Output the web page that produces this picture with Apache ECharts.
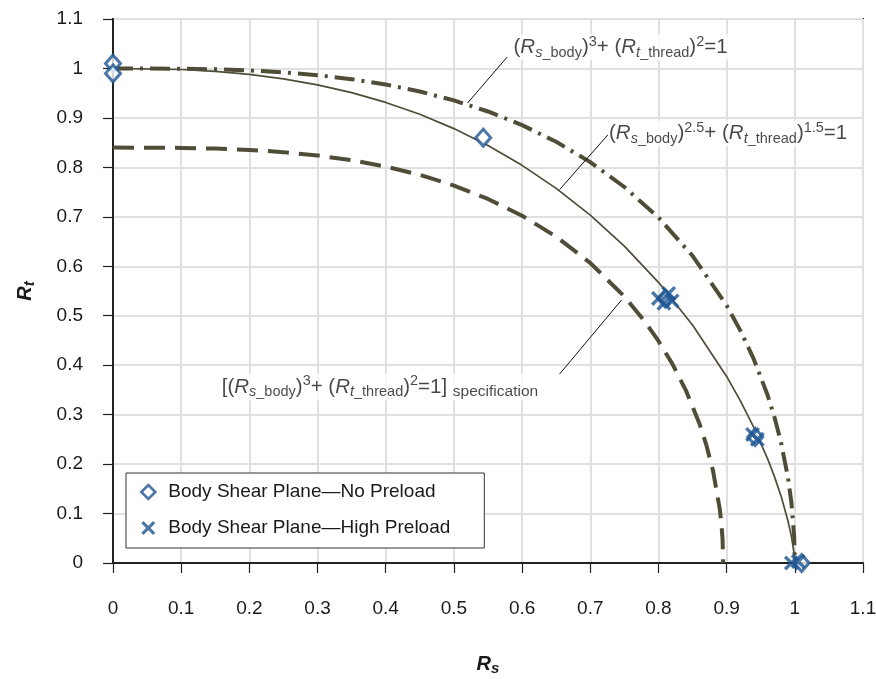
<!DOCTYPE html>
<html><head><meta charset="utf-8">
<script src="https://cdn.jsdelivr.net/npm/echarts@6/dist/echarts.min.js"></script>
<style>html,body{margin:0;padding:0;background:#fff}#c{width:876px;height:679px}</style>
</head><body><div id="c"></div>
<script>
// ---- data ----
const noPreload = [[0, 1.01], [0, 0.99], [0.543, 0.86], [0.81, 0.535], [0.942, 0.255], [1.01, 0]];
const highPreload = [[0.80, 0.535], [0.815, 0.545], [0.82, 0.53], [0.808, 0.525], [0.938, 0.26], [0.945, 0.25], [0.995, 0], [1.005, 0.003]];

// (Rs)^3 + (Rt)^2 = 1   (dash-dot)
const curveCubic = [[0,1],[0.1,0.9995],[0.15,0.9983],[0.2,0.996],[0.25,0.9922],[0.3,0.9864],[0.35,0.9783],[0.4,0.9675],[0.45,0.9534],[0.5,0.9354],[0.55,0.913],[0.6,0.8854],[0.65,0.8517],[0.7,0.8106],[0.75,0.7603],[0.8,0.6986],[0.85,0.6212],[0.9,0.5206],[0.92,0.4704],[0.94,0.4116],[0.96,0.3396],[0.97,0.2955],[0.98,0.2425],[0.99,0.1723],[0.995,0.1222],[0.999,0.0548],[1,0]];
// (Rs)^2.5 + (Rt)^1.5 = 1   (solid)
const curvePower = [[0,1],[0.1,0.9979],[0.15,0.9942],[0.2,0.988],[0.25,0.9791],[0.3,0.9669],[0.35,0.9511],[0.4,0.9313],[0.45,0.9073],[0.5,0.8784],[0.55,0.8442],[0.6,0.8041],[0.65,0.7576],[0.7,0.7035],[0.75,0.6408],[0.8,0.5676],[0.85,0.4813],[0.9,0.3772],[0.92,0.3283],[0.94,0.2738],[0.96,0.2111],[0.97,0.1752],[0.98,0.1344],[0.99,0.085],[0.995,0.0539],[0.999,0.0184],[1,0]];
// specification curve (dashed)
const curveSpec = [[0,0.84],[0.1,0.8394],[0.15,0.838],[0.2,0.8353],[0.25,0.8308],[0.3,0.824],[0.35,0.8145],[0.4,0.8016],[0.45,0.7848],[0.5,0.7632],[0.55,0.7361],[0.6,0.7022],[0.65,0.6598],[0.7,0.6067],[0.75,0.5389],[0.78,0.4884],[0.8,0.449],[0.82,0.4036],[0.84,0.3497],[0.86,0.2821],[0.87,0.2397],[0.88,0.1869],[0.89,0.1085],[0.892,0.0841],[0.894,0.0486],[0.895,0]];

const legendNames = ['Body Shear Plane\u2014No Preload', 'Body Shear Plane\u2014High Preload'];
const curveLabels = [
  '{m|(}{mi|R}{si|s}{s|_body}{m|)}{p|3}{m|+ (}{mi|R}{si|t}{s|_thread}{m|)}{p|2}{m|=1}',
  '{m|(}{mi|R}{si|s}{s|_body}{m|)}{p|2.5}{m|+ (}{mi|R}{si|t}{s|_thread}{m|)}{p|1.5}{m|=1}',
  '{m|[(}{mi|R}{si|s}{s|_body}{m|)}{p|3}{m|+ (}{mi|R}{si|t}{s|_thread}{m|)}{p|2}{m|=1] }{sp|specification}'
];
const labelAnchors = [[0.586, 1.043], [0.726, 0.868], [0.158, 0.356]];
const leaderLines = [
  [[0.578, 1.023], [0.52, 0.93]],
  [[0.726, 0.866], [0.655, 0.755]],
  [[0.655, 0.382], [0.746, 0.532]]
];
const axisMin = 0, axisMax = 1.1, axisStep = 0.1;

// ---- styling ----
const F = '"Liberation Sans", Arial, sans-serif';
const BLUE = '#1d5592';
const CURVE = '#4f4d37';
const TEXT = '#1a1a1a';
const xPath = 'path://M0,1.6 L1.6,0 L5,3.4 L8.4,0 L10,1.6 L6.6,5 L10,8.4 L8.4,10 L5,6.6 L1.6,10 L0,8.4 L3.4,5 Z';

const rich = {
  m:  {fontSize: 20.5, fontFamily: F, color: TEXT, lineHeight: 26},
  mi: {fontSize: 20.5, fontFamily: F, color: TEXT, fontStyle: 'italic', lineHeight: 26},
  si: {fontSize: 14.5, fontFamily: F, color: TEXT, fontStyle: 'italic', verticalAlign: 'bottom', lineHeight: 14},
  s:  {fontSize: 14.5, fontFamily: F, color: TEXT, verticalAlign: 'bottom', lineHeight: 14},
  p:  {fontSize: 14.5, fontFamily: F, color: TEXT, verticalAlign: 'top', lineHeight: 16},
  sp: {fontSize: 15.5, fontFamily: F, color: TEXT, verticalAlign: 'bottom', lineHeight: 15}
};

const chart = echarts.init(document.getElementById('c'), null, {renderer: 'canvas'});

const series = [
  {type: 'line', name: 'cubic', data: curveCubic, symbol: 'none', silent: true, z: 2,
   lineStyle: {color: CURVE, width: 4, type: [20, 7, 3, 7]}},
  {type: 'line', name: 'power', data: curvePower, symbol: 'none', silent: true, z: 2,
   lineStyle: {color: CURVE, width: 1.7, type: 'solid'}},
  {type: 'line', name: 'spec', data: curveSpec, symbol: 'none', silent: true, z: 2,
   lineStyle: {color: CURVE, width: 4, type: [21, 10]}}
];
leaderLines.forEach((seg, i) => series.push({
  type: 'line', name: 'leader' + i, data: seg, symbol: 'none', silent: true, z: 3,
  lineStyle: {color: '#111', width: 1}
}));
series.push({
  type: 'scatter', name: 'labels', silent: true, z: 4, symbolSize: 0,
  data: labelAnchors.map((p, i) => ({value: p, label: {formatter: curveLabels[i]}})),
  label: {show: true, position: 'right', distance: 0, backgroundColor: '#fff', padding: [0, 3, 0, 1], rich: rich}
});
series.push({
  type: 'scatter', name: legendNames[0], data: noPreload, symbol: 'diamond', symbolSize: [15, 17], z: 6,
  itemStyle: {color: '#fff', borderColor: BLUE, borderWidth: 3}
});
series.push({
  type: 'scatter', name: legendNames[1], data: highPreload, symbol: xPath, symbolSize: 15, z: 7,
  itemStyle: {color: BLUE}
});

chart.setOption({
  animation: false,
  backgroundColor: '#fff',
  grid: {left: 113, right: 13, top: 19, bottom: 116, containLabel: false, outerBoundsMode: 'none',
         show: true, borderColor: '#222', borderWidth: 2, backgroundColor: 'transparent'},
  legend: {
    data: [
      {name: legendNames[0], icon: 'diamond', itemStyle: {color: '#fff', borderColor: BLUE, borderWidth: 2.6}},
      {name: legendNames[1], icon: xPath, itemStyle: {color: BLUE}}
    ],
    orient: 'vertical', left: 126, top: 473, itemWidth: 14, itemHeight: 14, itemGap: 14,
    padding: [8, 34, 9, 14], borderColor: '#333', borderWidth: 1, backgroundColor: '#fff',
    textStyle: {fontFamily: F, fontSize: 19, color: TEXT, padding: [0, 0, 0, 8], lineHeight: 22},
    selectedMode: false
  },
  xAxis: {
    type: 'value', min: axisMin, max: axisMax, interval: axisStep,
    axisLine: {show: true, onZero: false, lineStyle: {color: '#222', width: 2}},
    axisTick: {show: true, length: 10, lineStyle: {color: '#222', width: 1.2}},
    axisLabel: {fontFamily: F, fontSize: 19, color: TEXT, margin: 36},
    splitLine: {show: true, lineStyle: {color: '#e0e0e0', width: 2}},
    name: '{r|R}{s|s}', nameLocation: 'middle', nameGap: 89,
    nameTextStyle: {rich: {
      r: {fontFamily: F, fontSize: 20, fontWeight: 'bold', fontStyle: 'italic', color: TEXT, lineHeight: 24},
      s: {fontFamily: F, fontSize: 15, fontWeight: 'bold', fontStyle: 'italic', color: TEXT, verticalAlign: 'bottom', lineHeight: 15}
    }}
  },
  yAxis: {
    type: 'value', min: axisMin, max: axisMax, interval: axisStep,
    axisLine: {show: true, onZero: false, lineStyle: {color: '#222', width: 2}},
    axisTick: {show: true, length: 10, lineStyle: {color: '#222', width: 1.2}},
    axisLabel: {fontFamily: F, fontSize: 19, color: TEXT, margin: 30},
    splitLine: {show: true, lineStyle: {color: '#e0e0e0', width: 2}},
    name: '{r|R}{s|t}', nameLocation: 'middle', nameGap: 76, nameRotate: 90,
    nameTextStyle: {rich: {
      r: {fontFamily: F, fontSize: 20, fontWeight: 'bold', fontStyle: 'italic', color: TEXT, lineHeight: 24},
      s: {fontFamily: F, fontSize: 15, fontWeight: 'bold', fontStyle: 'italic', color: TEXT, verticalAlign: 'bottom', lineHeight: 15}
    }}
  },
  series: series
});
</script>
</body></html>
